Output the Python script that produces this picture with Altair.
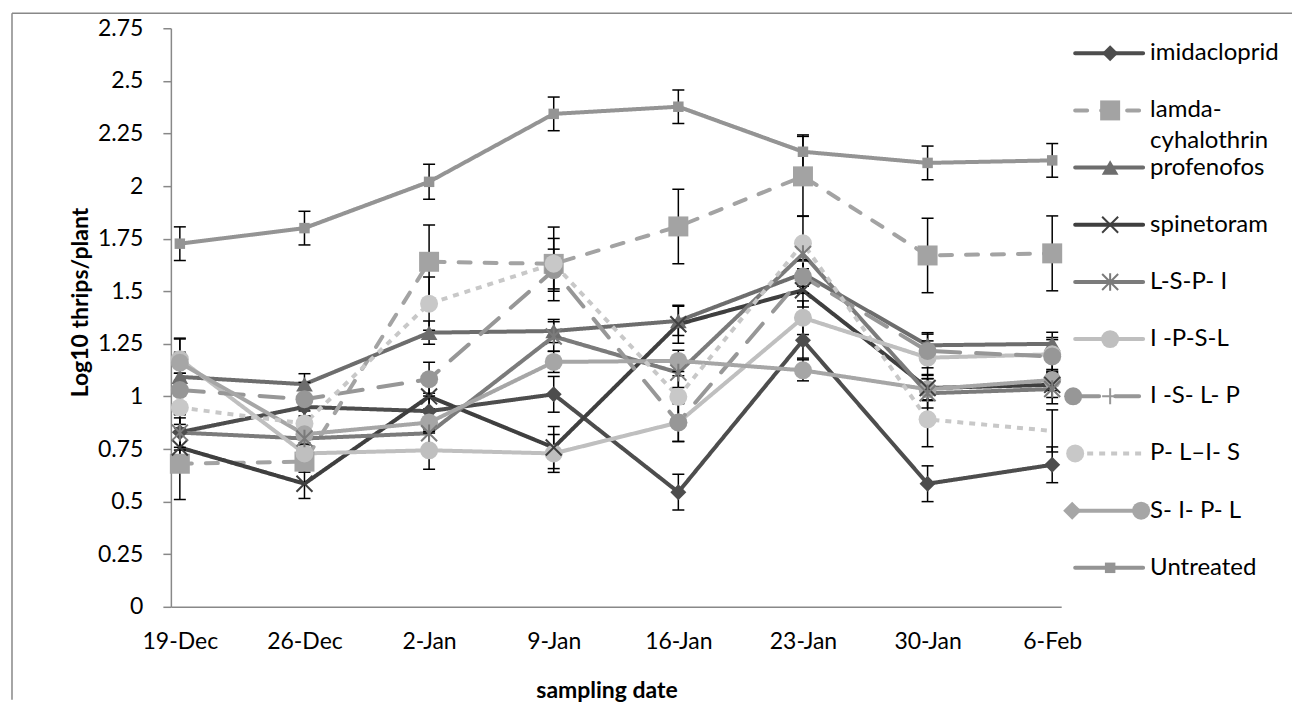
import altair as alt
import pandas as pd

# ---------------- data ----------------
dates = ["19-Dec", "26-Dec", "2-Jan", "9-Jan", "16-Jan", "23-Jan", "30-Jan", "6-Feb"]
series_names = ["imidacloprid", "lamda-cyhalothrin", "profenofos", "spinetoram",
                "L-S-P- I", "I -P-S-L", "I -S- L- P", "P- L\u2013I- S", "S- I- P- L", "Untreated"]

imidacloprid = [0.83, 0.95, 0.93, 1.01, 0.545, 1.267, 0.585, 0.675]
lamda = [0.68, 0.69, 1.64, 1.63, 1.808, 2.046, 1.67, 1.68]
profenofos = [1.093, 1.058, 1.303, 1.311, 1.359, 1.584, 1.243, 1.25]
spinetoram = [0.757, 0.585, 1.0, 0.757, 1.343, 1.505, 1.04, 1.055]
lspi = [0.828, 0.80, 0.825, 1.285, 1.113, 1.677, 1.015, 1.035]
ipsl = [1.177, 0.729, 0.744, 0.729, 0.876, 1.374, 1.184, 1.20]
islp = [1.03, 0.987, 1.082, 1.60, 0.876, 1.57, 1.216, 1.19]
plis = [0.947, 0.871, 1.441, 1.631, 0.998, 1.728, 0.891, 0.836]
sipl = [1.16, 0.82, 0.876, 1.164, 1.169, 1.124, 1.034, 1.078]
untreated = [1.726, 1.80, 2.02, 2.343, 2.377, 2.163, 2.11, 2.122]

imidacloprid_err = [0.085, 0.085, 0.085, 0.085, 0.085, 0.085, 0.085, 0.085]
lamda_err = [0.17, 0.05, 0.175, 0.175, 0.177, 0.19, 0.177, 0.178]
profenofos_err = [0.18, 0.05, 0.055, 0.055, 0.07, 0.06, 0.06, 0.055]
spinetoram_err = [0.07, 0.07, 0.06, 0.10, 0.09, 0.08, 0.06, 0.06]
lspi_err = [0.07, 0.07, 0.07, 0.07, 0.07, 0.07, 0.07, 0.07]
ipsl_err = [0.10, 0.05, 0.09, 0.09, 0.09, 0.08, 0.08, 0.08]
islp_err = [0.08, 0.08, 0.08, 0.10, 0.09, 0.08, 0.08, 0.08]
plis_err = [0.08, 0.06, 0.127, 0.12, 0.10, 0.13, 0.13, 0.10]
sipl_err = [0.05, 0.05, 0.05, 0.05, 0.05, 0.05, 0.05, 0.05]
untreated_err = [0.08, 0.08, 0.083, 0.08, 0.08, 0.08, 0.08, 0.08]

all_values = [imidacloprid, lamda, profenofos, spinetoram, lspi, ipsl, islp, plis, sipl, untreated]
all_errs = [imidacloprid_err, lamda_err, profenofos_err, spinetoram_err, lspi_err,
            ipsl_err, islp_err, plis_err, sipl_err, untreated_err]

legend_line1 = ["imidacloprid", "lamda-", "profenofos", "spinetoram", "L-S-P- I",
                "I -P-S-L", "I -S- L- P", "P- L\u2013I- S", "S- I- P- L", "Untreated"]
legend_line2 = ["", "cyhalothrin", "", "", "", "", "", "", "", ""]

# ---------------- styles ----------------
colors = ["#4d4d4d", "#a3a3a3", "#6d6d6d", "#3f3f3f", "#7b7b7b",
          "#bfbfbf", "#979797", "#c8c8c8", "#a6a6a6", "#949494"]
dashes = [[1, 0], [12, 14], [1, 0], [1, 0], [1, 0],
          [1, 0], [24, 16], [6, 6], [1, 0], [1, 0]]
XPATH = "M-1,-1L1,1M-1,1L1,-1"
ASTPATH = "M-1,-1L1,1M-1,1L1,-1M0,-1.1L0,1.1"
PLUSPATH = "M-1,0L1,0M0,-1L0,1"
shapes = ["diamond", "square", "triangle-up", XPATH, ASTPATH,
          "circle", "circle", "circle", "circle", "square"]
sizes = [256, 400, 280, 256, 256, 324, 324, 324, 324, 110]
stroked = ["spinetoram", "L-S-P- I"]

rows = []
for s, vals, errs in zip(series_names, all_values, all_errs):
    for d, v, e in zip(dates, vals, errs):
        rows.append({"series": s, "date": d, "value": v, "lo": v - e, "hi": v + e,
                     "hide": (s == "P- L\u2013I- S" and d == "6-Feb")})
df = pd.DataFrame(rows)

FONT = "Lato"
FS = 23
LFS = 24
AX = "#888888"

color_scale = alt.Scale(domain=series_names, range=colors)
dash_scale = alt.Scale(domain=series_names, range=dashes)
shape_scale = alt.Scale(domain=series_names, range=shapes)
size_scale = alt.Scale(type="ordinal", domain=series_names, range=sizes)

X = alt.X("date:N", sort=dates, scale=alt.Scale(type="point", padding=0.072),
          axis=alt.Axis(title="sampling date", ticks=False, labelAngle=0, labelPadding=24,
                        titleX=436, titleY=91, titleBaseline="alphabetic"))


def Y(field):
    return alt.Y(field, type="quantitative",
                 scale=alt.Scale(domain=[0, 2.75], nice=False, zero=True),
                 axis=alt.Axis(title="Log10 thrips/plant",
                               values=[0, 0.25, 0.5, 0.75, 1, 1.25, 1.5, 1.75, 2, 2.25, 2.5, 2.75],
                               format=".2~f", grid=False, tickSize=8, labelPadding=20,
                               titleX=-90, titleY=274, titleBaseline="middle", titleAngle=-90))


one = pd.DataFrame({"a": [0]})
border_left = alt.Chart(one).mark_rule(color=AX, strokeWidth=1.5).encode(
    x=alt.value(-159), y=alt.value(-15), y2=alt.value(672))
border_top = alt.Chart(one).mark_rule(color=AX, strokeWidth=1.5).encode(
    x=alt.value(-159), x2=alt.value(1122), y=alt.value(-15))

line_base = alt.Chart(df).encode(
    x=X, y=Y("value"),
    color=alt.Color("series:N", scale=color_scale, legend=None),
    strokeDash=alt.StrokeDash("series:N", scale=dash_scale, legend=None),
    detail="series:N")
lines_round = line_base.mark_line(strokeWidth=4, strokeCap="round", strokeJoin="round").transform_filter(
    alt.datum.series != "P- L\u2013I- S")
lines_dot = line_base.mark_line(strokeWidth=4, strokeCap="butt").transform_filter(
    alt.datum.series == "P- L\u2013I- S")

err_rules = alt.Chart(df).mark_rule(color="black", strokeWidth=1.5).encode(
    x=X, y=Y("lo"), y2="hi:Q")
cap_lo = alt.Chart(df).mark_tick(color="black", thickness=1.5, size=12, opacity=1).encode(x=X, y=Y("lo"))
cap_hi = alt.Chart(df).mark_tick(color="black", thickness=1.5, size=12, opacity=1).encode(x=X, y=Y("hi"))

pt_base = alt.Chart(df).encode(
    x=X, y=Y("value"),
    color=alt.Color("series:N", scale=color_scale, legend=None),
    shape=alt.Shape("series:N", scale=shape_scale, legend=None),
    size=alt.Size("series:N", scale=size_scale, legend=None))
pts_filled = pt_base.mark_point(filled=True, opacity=1).transform_filter(
    "indexof(%s, datum.series) < 0 && !datum.hide" % str(stroked))
pts_stroked = pt_base.mark_point(filled=False, opacity=1, strokeWidth=2).transform_filter(
    "indexof(%s, datum.series) >= 0" % str(stroked))

main = alt.layer(border_left, border_top, lines_round, lines_dot, err_rules, cap_lo, cap_hi,
                 pts_filled, pts_stroked).properties(width=891, height=579)

# ---------------- legend ----------------
leg_df = pd.DataFrame({"series": series_names, "l1": legend_line1, "l2": legend_line2})
LY = alt.Y("series:N", sort=series_names, scale=alt.Scale(type="point", padding=0.437), axis=None)

leg_rule_base = alt.Chart(leg_df).encode(
    x=alt.value(0), x2=alt.value(68), y=LY,
    color=alt.Color("series:N", scale=color_scale, legend=None),
    strokeDash=alt.StrokeDash("series:N", scale=dash_scale, legend=None))
leg_rules = leg_rule_base.mark_rule(strokeWidth=4, strokeCap="round").transform_filter(
    alt.datum.series != "P- L\u2013I- S")
leg_rules_dot = leg_rule_base.mark_rule(strokeWidth=4, strokeCap="butt").transform_filter(
    alt.datum.series == "P- L\u2013I- S")

cmap = dict(zip(series_names, colors))
leg_markers = [
    ("imidacloprid", 35, "diamond", True, 256),
    ("lamda-cyhalothrin", 35, "square", True, 400),
    ("profenofos", 35, "triangle-up", True, 280),
    ("spinetoram", 35, XPATH, False, 256),
    ("L-S-P- I", 35, ASTPATH, False, 256),
    ("I -P-S-L", 35, "circle", True, 324),
    ("I -S- L- P", -2, "circle", True, 324),
    ("I -S- L- P", 35, PLUSPATH, False, 256),
    ("P- L\u2013I- S", 0, "circle", True, 324),
    ("S- I- P- L", -3, "diamond", True, 324),
    ("S- I- P- L", 66, "circle", True, 324),
    ("Untreated", 35, "square", True, 110),
]
lm_df = pd.DataFrame([{"series": s, "px": p, "shape": sh, "filled": f, "sz": z, "col": cmap[s]}
                      for s, p, sh, f, z in leg_markers])
lm_base = alt.Chart(lm_df).encode(
    x=alt.X("px:Q", scale=None, axis=None), y=LY,
    color=alt.Color("col:N", scale=None, legend=None),
    shape=alt.Shape("shape:N", scale=None, legend=None),
    size=alt.Size("sz:Q", scale=None, legend=None))
lm_filled = lm_base.mark_point(filled=True, opacity=1).transform_filter(alt.datum.filled)
lm_stroked = lm_base.mark_point(filled=False, opacity=1, strokeWidth=2).transform_filter(~alt.datum.filled)

leg_text1 = alt.Chart(leg_df).mark_text(align="left", baseline="middle", dx=7, font=FONT,
                                        fontSize=LFS, color="black").encode(
    x=alt.value(68), y=LY, text="l1:N")
leg_text2 = alt.Chart(leg_df).mark_text(align="left", baseline="middle", dx=7, dy=31, font=FONT,
                                        fontSize=LFS, color="black").encode(
    x=alt.value(68), y=LY, text="l2:N").transform_filter(alt.datum.l2 != "")

legend = alt.layer(leg_rules, leg_rules_dot, lm_filled, lm_stroked, leg_text1, leg_text2).properties(
    width=68, height=565)

chart = alt.hconcat(main, legend, spacing=14, bounds="flush").properties(
    padding={"left": 3, "top": 4, "right": 0, "bottom": 0}
).configure_view(stroke=None).configure_axis(
    labelFont=FONT, labelFontSize=FS, labelColor="black",
    titleFont=FONT, titleFontSize=FS, titleFontWeight="bold", titleColor="black",
    domainColor=AX, domainWidth=1.5, tickColor=AX, tickWidth=1.5
)

chart.save("out.html", embed_options={"renderer": "svg", "actions": False})
